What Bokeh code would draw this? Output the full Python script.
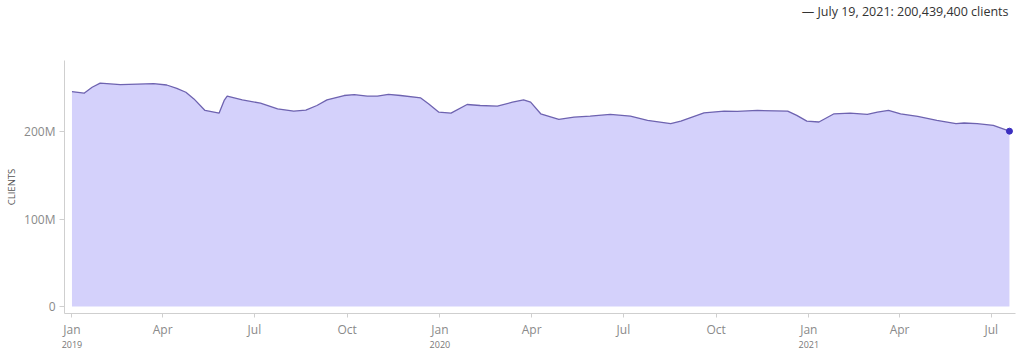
import pandas as pd
from bokeh.plotting import figure
from bokeh.models import (ColumnDataSource, FixedTicker, LinearAxis, Range1d, Title)
from bokeh.embed import file_html
from bokeh.resources import INLINE

# ---- data ----
dates = [
    "2019-01-01", "2019-01-13", "2019-01-21", "2019-01-29", "2019-02-18", "2019-03-07",
    "2019-03-23", "2019-04-05", "2019-04-15", "2019-04-24", "2019-05-02", "2019-05-13",
    "2019-05-27", "2019-06-01", "2019-06-04", "2019-06-19", "2019-07-07", "2019-07-24",
    "2019-08-09", "2019-08-21", "2019-09-01", "2019-09-11", "2019-09-28", "2019-10-08",
    "2019-10-21", "2019-10-31", "2019-11-11", "2019-11-23", "2019-12-13", "2019-12-21",
    "2019-12-31", "2020-01-12", "2020-01-28", "2020-02-10", "2020-02-27", "2020-03-13",
    "2020-03-24", "2020-03-31", "2020-04-10", "2020-04-28", "2020-05-13", "2020-05-29",
    "2020-06-18", "2020-07-08", "2020-07-25", "2020-08-17", "2020-08-27", "2020-09-19",
    "2020-10-09", "2020-10-22", "2020-11-11", "2020-12-11", "2020-12-20", "2020-12-30",
    "2021-01-11", "2021-01-26", "2021-02-11", "2021-02-28", "2021-03-10", "2021-03-21",
    "2021-04-02", "2021-04-19", "2021-05-08", "2021-05-27", "2021-06-04", "2021-06-17",
    "2021-07-03", "2021-07-19",
]
clients_m = [
    245.7, 243.8, 250.6, 255.4, 253.6, 254.3,
    254.8, 253.2, 249.4, 244.9, 237.3, 224.1,
    221.1, 235.5, 240.4, 236.2, 232.4, 226.0,
    223.4, 224.5, 229.8, 236.2, 241.2, 242.3,
    240.4, 240.4, 242.6, 241.2, 238.4, 231.6,
    222.2, 221.1, 230.9, 229.8, 229.0, 233.6,
    236.2, 233.6, 220.3, 213.9, 216.6, 217.7,
    219.6, 217.7, 212.8, 209.0, 212.0, 221.4,
    223.4, 223.0, 224.1, 223.4, 218.5, 212.0,
    210.9, 220.3, 221.1, 219.6, 222.2, 224.1,
    220.3, 217.3, 212.8, 209.0, 209.8, 209.0,
    207.1, 200.4394,
]
y_ticks = [0, 100_000_000, 200_000_000]
y_tick_labels = ["0", "100M", "200M"]
month_ticks = ["2019-01-01", "2019-04-01", "2019-07-01", "2019-10-01",
               "2020-01-01", "2020-04-01", "2020-07-01", "2020-10-01",
               "2021-01-01", "2021-04-01", "2021-07-01"]
month_labels = ["Jan", "Apr", "Jul", "Oct", "Jan", "Apr", "Jul", "Oct", "Jan", "Apr", "Jul"]
year_ticks = ["2019-01-01", "2020-01-01", "2021-01-01"]
year_labels = ["2019", "2020", "2021"]
headline = "— July 19, 2021: 200,439,400 clients"

# ---- build ----
def to_ms(s):
    return int(pd.Timestamp(s).value // 1_000_000)

xs = [to_ms(d) for d in dates]
ys = [v * 1_000_000 for v in clients_m]
src = ColumnDataSource(dict(x=xs, y=ys, zero=[0] * len(xs)))
last = ColumnDataSource(dict(x=[xs[-1]], y=[ys[-1]]))

day = 86_400_000
x0 = to_ms("2019-01-01")
FONT = "Open Sans"

p = figure(width=1024, height=353, output_backend="svg", toolbar_location=None,
           x_range=Range1d(x0 - 7.4 * day, x0 + 936 * day),
           y_range=Range1d(-7.9e6, 281.2e6),
           min_border_left=64, min_border_right=9, min_border_top=58, min_border_bottom=40,
           x_axis_type=None, y_axis_type=None)
p.outline_line_color = None
p.xgrid.visible = False
p.ygrid.visible = False
p.background_fill_color = "white"
p.border_fill_color = "white"

# headline title at the very top, an empty spacer title between it and the frame
p.title.text = headline
p.title.align = "right"
p.title.text_font = FONT
p.title.text_font_size = "12.5px"
p.title.text_font_style = "normal"
p.title.text_color = "#333333"
p.title.standoff = 0
p.title.offset = 7
spacer = Title(text=" ", text_font=FONT, text_font_size="12.5px", standoff=22)
p.add_layout(spacer, "above")

p.varea(x="x", y1="zero", y2="y", source=src, fill_color="#d4d1fb", fill_alpha=1.0)
p.line(x="x", y="y", source=src, line_color="#6e63b0", line_width=1.3, line_join="round")
p.scatter(x="x", y="y", source=last, size=6, fill_color="#3b2fc0", line_color="#3b2fc0")

# y axis
yax = LinearAxis(ticker=FixedTicker(ticks=y_ticks),
                 major_label_overrides={t: l for t, l in zip(y_ticks, y_tick_labels)})
yax.axis_label = "CLIENTS"
yax.axis_label_text_font = FONT
yax.axis_label_text_font_size = "9.5px"
yax.axis_label_text_font_style = "normal"
yax.axis_label_text_color = "#555555"
yax.axis_label_standoff = 3
yax.major_label_text_font = FONT
yax.major_label_text_font_size = "12px"
yax.major_label_text_color = "#8a8a8a"
yax.major_label_standoff = 4
yax.axis_line_color = "#cfcfcf"
yax.major_tick_line_color = "#cfcfcf"
yax.major_tick_out = 5
yax.major_tick_in = 0
yax.minor_tick_line_color = None
p.add_layout(yax, "left")

# x axis (months)
mt = [to_ms(d) for d in month_ticks]
xax = LinearAxis(ticker=FixedTicker(ticks=mt),
                 major_label_overrides={t: l for t, l in zip(mt, month_labels)})
xax.major_label_text_font = FONT
xax.major_label_text_font_size = "12px"
xax.major_label_text_color = "#8a8a8a"
xax.major_label_standoff = 3
xax.axis_line_color = "#cfcfcf"
xax.major_tick_line_color = "#cfcfcf"
xax.major_tick_out = 4
xax.major_tick_in = 0
xax.minor_tick_line_color = None
p.add_layout(xax, "below")

# x axis (years)
yt = [to_ms(d) for d in year_ticks]
yrax = LinearAxis(ticker=FixedTicker(ticks=yt),
                  major_label_overrides={t: l for t, l in zip(yt, year_labels)})
yrax.major_label_text_font = FONT
yrax.major_label_text_font_size = "9px"
yrax.major_label_text_color = "#777777"
yrax.major_label_standoff = 0
yrax.axis_line_color = None
yrax.major_tick_line_color = None
yrax.major_tick_out = 0
yrax.major_tick_in = 0
yrax.minor_tick_line_color = None
p.add_layout(yrax, "below")

open("out.html", "w").write(file_html(p, INLINE))
